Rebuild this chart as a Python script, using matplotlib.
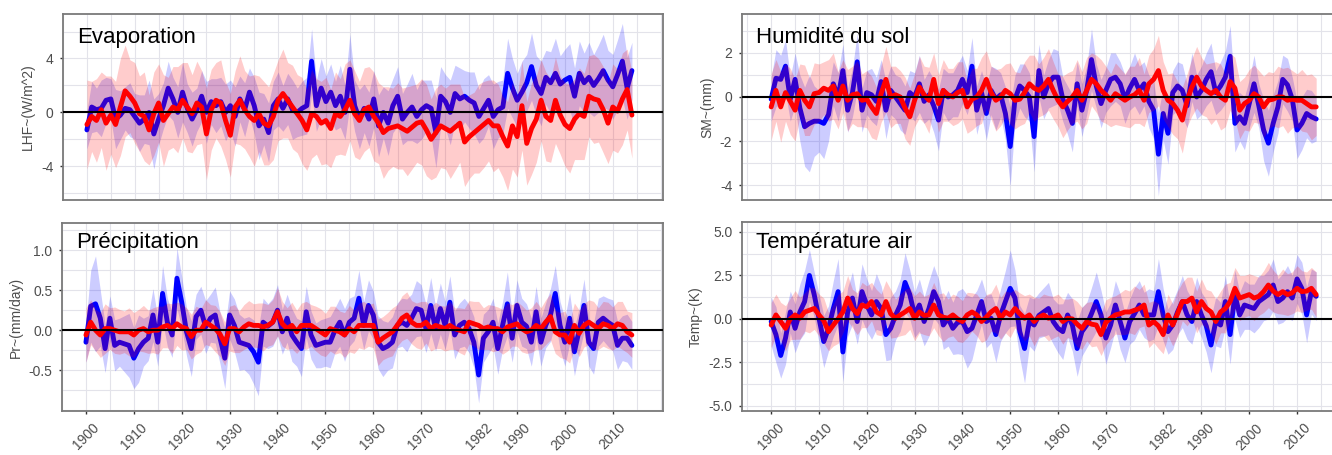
"""Anomalies 1900-2014 : évaporation, humidité du sol, précipitation, température air."""

import matplotlib

matplotlib.use("Agg")
import matplotlib.pyplot as plt  # noqa: E402
import numpy as np  # noqa: E402

plt.rcParams["font.family"] = ["Liberation Sans", "DejaVu Sans"]

# ---------------------------------------------------------------- données
YEARS = np.arange(1900, 2015)
XTICKS = [1900, 1910, 1920, 1930, 1940, 1950, 1960, 1970, 1982, 1990, 2000, 2010]

# Evaporation (LHF, W/m^2)
lhf_blue = [
    -1.3, 0.4, 0.2, 0.3, 0.9, 1.0, -0.5, -0.2, 0.3, 0.2,
    -0.3, -0.8, -0.5, 0.0, -1.6, -0.5, 0.5, 1.8, 1.0, 0.0,
    1.5, 0.3, -0.5, 0.2, 1.2, 0.0, 0.8, 0.5, 0.8, 0.0,
    0.5, -0.3, 1.0, 0.2, 1.5, 0.5, -1.0, -0.5, -1.5, 0.5,
    1.0, 0.3, 1.0, 0.2, 0.0, 0.3, 0.5, 3.8, 0.5, 1.8,
    0.8, 1.5, 0.5, 1.2, 0.0, 3.2, 0.5, -0.5, 0.3, -0.5,
    1.0, -1.0, 0.0, -0.8, 0.5, 1.2, -0.5, 0.0, 0.4, -0.3,
    0.2, 0.5, 0.3, -1.5, 1.2, 0.8, 0.0, 1.4, 1.0, 1.2,
    0.9, 0.7, -0.3, 0.3, 0.9, -0.3, 0.2, 0.4, 2.9, 1.8,
    0.9, 1.5, 2.2, 3.4, 2.0, 1.4, 2.6, 2.2, 2.9, 2.1,
    2.4, 2.6, 1.2, 2.9, 2.2, 2.6, 2.0, 2.5, 3.1, 2.4,
    1.9, 2.8, 3.8, 1.8, 3.1,
]
lhf_blue_sd = [
    1.4, 1.9, 1.6, 2.1, 1.7, 1.5, 2.2, 1.8, 1.6, 2.0,
    1.7, 2.1, 1.8, 2.4, 2.6, 1.9, 1.7, 2.0, 1.6, 1.9,
    2.2, 1.8, 2.0, 1.6, 1.9, 2.3, 1.7, 2.0, 1.8, 2.1,
    1.9, 2.2, 1.7, 2.0, 1.8, 2.1, 2.5, 1.9, 2.2, 1.8,
    2.0, 1.7, 1.9, 2.2, 1.8, 2.0, 2.1, 2.4, 1.9, 2.2,
    1.9, 2.1, 1.8, 2.3, 2.0, 2.6, 1.9, 2.2, 1.8, 2.0,
    2.1, 2.3, 1.9, 2.4, 2.0, 2.2, 1.9, 2.1, 2.5, 2.0,
    2.2, 1.9, 2.1, 2.6, 2.2, 2.0, 2.4, 2.1, 2.3, 1.9,
    2.1, 2.3, 2.0, 2.2, 1.9, 2.4, 2.1, 2.0, 2.6, 2.2,
    2.0, 2.3, 2.1, 2.5, 2.2, 2.4, 2.0, 2.3, 2.6, 2.1,
    2.3, 2.5, 2.1, 2.4, 2.2, 2.6, 2.3, 2.5, 2.7, 2.2,
    2.4, 2.6, 2.8, 2.3, 2.1,
]
lhf_red = [
    -0.9, -0.3, -0.6, 0.2, -0.8, -0.2, -0.9, 0.4, 1.6, 1.2,
    0.7, -0.1, -0.3, -1.3, -0.1, 0.7, -0.6, -0.1, 0.4, 0.2,
    0.9, 0.4, -0.1, 0.7, 0.4, -1.6, 0.2, 0.9, 0.7, -0.6,
    -1.7, 0.4, 0.9, 0.2, -0.3, -0.6, -0.1, -0.8, -1.0, -0.3,
    0.9, 1.4, 0.9, 0.4, -0.1, -0.6, -1.3, -0.1, -0.3, -0.8,
    -0.6, -1.2, -0.1, -0.3, 0.2, 0.9, -0.1, -0.6, 0.2, 0.4,
    -0.3, -0.8, -1.5, -1.2, -1.1, -1.0, -1.2, -1.4, -1.1, -0.8,
    -0.7, -1.3, -2.0, -1.5, -1.0, -1.2, -1.4, -1.1, -0.8, -2.2,
    -1.8, -1.5, -1.2, -0.9, -0.6, -1.0, -1.0, -1.8, -2.5, -1.0,
    -1.8, 0.5, -2.3, -1.2, -0.5, 0.9, -0.3, -0.6, 0.9, -0.2,
    -0.9, -1.2, -0.5, -0.1, -0.3, 1.2, 1.0, 0.9, 0.2, -0.8,
    0.4, 0.1, 1.0, 1.7, -0.2,
]
lhf_red_sd = [
    3.3, 2.6, 3.1, 2.8, 3.5, 2.9, 3.2, 3.6, 3.4, 2.7,
    3.0, 2.8, 3.3, 2.6, 3.1, 2.9, 3.4, 2.7, 3.0, 3.2,
    2.8, 3.3, 2.9, 3.1, 2.7, 3.4, 3.0, 2.8, 3.2, 2.9,
    3.1, 2.7, 3.3, 2.9, 3.0, 3.4, 2.8, 3.1, 2.9, 3.2,
    3.0, 3.3, 2.8, 3.1, 2.9, 3.2, 3.0, 3.3, 2.8, 3.1,
    3.2, 2.9, 3.1, 2.8, 3.4, 3.0, 3.2, 2.9, 3.1, 3.0,
    3.3, 3.0, 3.4, 3.1, 2.9, 3.2, 3.0, 3.3, 3.1, 2.9,
    3.2, 3.4, 3.0, 3.3, 3.1, 3.0, 3.5, 3.2, 2.9, 3.3,
    3.1, 3.0, 3.3, 3.2, 3.0, 3.4, 3.1, 3.0, 3.3, 3.2,
    3.0, 3.3, 3.1, 3.4, 3.2, 3.0, 3.3, 3.1, 3.2, 2.9,
    3.1, 3.3, 3.0, 3.4, 3.2, 3.0, 3.3, 3.1, 3.2, 3.0,
    3.2, 3.1, 3.4, 3.0, 3.2,
]

# Humidité du sol (SM, mm)
sm_blue = [
    -0.1, 0.85, 0.8, 1.4, -0.1, 0.8, -0.5, -1.35, -1.2, -1.1,
    -1.1, -1.2, -0.8, 0.6, 0.0, 1.2, -0.6, 0.2, 1.6, -0.6,
    0.2, 0.1, -0.2, 0.7, -0.6, 0.3, 0.0, -0.3, -0.6, 0.2,
    0.0, 0.6, -0.2, 0.1, -0.4, -1.05, 0.3, 0.0, 0.1, 0.3,
    0.8, 0.2, 1.4, -0.6, 0.2, -0.75, 0.3, -0.1, 0.1, -0.75,
    -2.25, -0.1, 0.5, 0.3, 0.0, -1.8, 1.2, 0.0, 0.6, 0.9,
    0.9, -0.1, -0.6, -1.2, 0.6, -0.6, 0.3, 1.7, 0.5, -0.3,
    0.3, 0.8, 0.9, 0.6, -0.1, 0.4, 0.8, 0.3, 0.6, -0.2,
    -0.6, -2.6, -0.75, -1.65, 0.2, 0.5, 0.3, -0.4, 0.9, 0.0,
    0.3, 0.8, 1.15, 0.2, 0.5, 0.9, 1.85, -1.2, -0.9, -1.2,
    -0.3, 0.6, -0.4, -1.5, -2.1, -1.2, -0.45, 0.8, 0.55, -0.1,
    -1.5, -1.2, -0.75, -0.9, -1.0,
]
sm_blue_sd = [
    1.0, 1.3, 1.1, 1.2, 1.0, 1.2, 1.5, 1.8, 2.2, 1.6,
    1.4, 1.6, 1.2, 1.0, 1.1, 1.2, 1.0, 1.1, 1.3, 1.0,
    1.0, 1.2, 1.1, 1.0, 1.3, 1.1, 1.0, 1.2, 1.1, 1.0,
    1.1, 1.3, 1.0, 1.1, 1.2, 1.4, 1.0, 1.1, 1.0, 1.2,
    1.1, 1.0, 1.3, 1.1, 1.0, 1.2, 1.1, 1.4, 1.0, 1.2,
    1.8, 1.1, 1.0, 1.2, 1.1, 1.6, 1.2, 1.0, 1.1, 1.3,
    1.2, 1.0, 1.1, 1.3, 1.0, 1.2, 1.1, 1.4, 1.0, 1.1,
    1.0, 1.2, 1.1, 1.0, 1.1, 1.0, 1.2, 1.1, 1.0, 1.2,
    1.3, 1.9, 1.2, 1.4, 1.0, 1.1, 1.2, 1.0, 1.1, 1.0,
    1.1, 1.2, 1.3, 1.0, 1.1, 1.2, 1.4, 1.3, 1.1, 1.2,
    1.1, 1.3, 1.0, 1.4, 1.5, 1.3, 1.2, 1.1, 1.2, 1.0,
    1.3, 1.2, 1.1, 1.2, 1.0,
]
sm_red = [
    -0.45, 0.3, -0.45, 0.2, -0.2, -0.6, 0.3, -0.15, -0.45, 0.15,
    0.2, 0.4, 0.3, 0.5, -0.15, 0.5, -0.15, 0.1, 0.15, -0.15,
    -0.1, -0.45, -0.75, 0.15, 0.8, 0.0, 0.1, 0.0, -0.5, -0.9,
    -0.15, 0.45, 0.1, -0.15, 0.8, -0.3, 0.3, 0.1, 0.0, 0.2,
    0.3, -0.45, -0.1, 0.0, 0.3, 0.8, 0.2, -0.15, 0.0, 0.3,
    0.15, -0.15, -0.1, 0.2, 0.6, 0.4, 0.3, 0.5, 0.8, 0.3,
    -0.15, -0.45, -0.2, 0.0, 0.3, -0.15, 0.3, 0.8, 0.6, 0.3,
    0.1, -0.15, 0.15, 0.0, -0.15, 0.0, 0.1, 0.3, -0.15, 0.6,
    0.8, 1.2, 0.3, -0.15, -0.3, -0.6, -1.05, -0.15, 0.45, 0.9,
    0.5, 0.3, 0.15, 0.3, 0.0, -0.15, 0.7, 0.4, -0.6, -0.3,
    -0.15, 0.15, 0.0, -0.45, -0.15, -0.1, 0.0, 0.0, -0.15, -0.1,
    -0.15, -0.15, -0.3, -0.45, -0.45,
]
sm_red_sd = [
    1.5, 1.4, 1.6, 1.3, 1.5, 1.4, 1.2, 1.6, 1.3, 1.4,
    1.3, 1.2, 1.4, 1.5, 1.3, 1.2, 1.4, 1.3, 1.5, 1.2,
    1.3, 1.4, 1.2, 1.3, 1.5, 1.4, 1.3, 1.2, 1.4, 1.3,
    1.2, 1.4, 1.3, 1.5, 1.2, 1.3, 1.4, 1.2, 1.3, 1.4,
    1.3, 1.2, 1.4, 1.3, 1.5, 1.3, 1.2, 1.4, 1.3, 1.2,
    1.4, 1.3, 1.2, 1.4, 1.3, 1.5, 1.2, 1.3, 1.4, 1.3,
    1.2, 1.4, 1.3, 1.2, 1.4, 1.3, 1.5, 1.2, 1.3, 1.4,
    1.3, 1.2, 1.4, 1.3, 1.2, 1.4, 1.3, 1.5, 1.2, 1.3,
    1.4, 1.6, 1.3, 1.2, 1.4, 1.3, 1.5, 1.2, 1.3, 1.4,
    1.3, 1.2, 1.4, 1.3, 1.5, 1.2, 1.3, 1.4, 1.3, 1.2,
    1.4, 1.3, 1.2, 1.4, 1.3, 1.2, 1.4, 1.3, 1.5, 1.3,
    1.2, 1.4, 1.3, 1.5, 1.3,
]

# Précipitation (Pr, mm/day)
pr_blue = [
    -0.15, 0.3, 0.33, 0.15, -0.23, 0.15, -0.19, -0.15, -0.17, -0.19,
    -0.35, -0.23, -0.15, -0.1, 0.19, -0.15, 0.46, 0.1, -0.06, 0.65,
    0.35, -0.02, -0.23, 0.17, 0.25, 0.04, 0.15, 0.19, -0.1, -0.35,
    0.19, 0.06, -0.15, -0.17, -0.19, -0.27, -0.4, 0.1, 0.05, 0.1,
    0.25, -0.02, 0.15, -0.06, -0.15, -0.23, 0.23, -0.06, -0.19, -0.17,
    -0.15, -0.15, 0.0, 0.1, -0.06, 0.1, 0.15, 0.4, 0.06, 0.31,
    0.19, -0.15, -0.23, -0.2, -0.15, 0.06, 0.1, 0.06, 0.15, 0.27,
    0.25, 0.02, 0.31, 0.02, 0.27, 0.06, 0.35, -0.06, 0.06, 0.1,
    0.02, -0.15, -0.56, -0.1, -0.02, 0.1, -0.23, 0.06, 0.33, -0.1,
    0.31, 0.1, 0.05, -0.15, 0.23, -0.15, 0.06, 0.19, 0.46, 0.06,
    -0.15, 0.15, -0.27, 0.0, 0.31, -0.15, -0.23, 0.1, 0.15, 0.1,
    0.06, -0.19, -0.1, -0.1, -0.19,
]
pr_blue_sd = [
    0.25, 0.45, 0.6, 0.35, 0.3, 0.28, 0.32, 0.3, 0.35, 0.4,
    0.38, 0.42, 0.3, 0.28, 0.33, 0.3, 0.35, 0.3, 0.28, 0.38,
    0.32, 0.3, 0.35, 0.28, 0.3, 0.33, 0.3, 0.35, 0.32, 0.38,
    0.3, 0.33, 0.35, 0.32, 0.36, 0.4, 0.42, 0.3, 0.28, 0.3,
    0.32, 0.28, 0.3, 0.33, 0.3, 0.35, 0.32, 0.3, 0.28, 0.3,
    0.3, 0.32, 0.28, 0.3, 0.33, 0.3, 0.28, 0.35, 0.3, 0.32,
    0.3, 0.33, 0.35, 0.3, 0.32, 0.28, 0.3, 0.33, 0.3, 0.35,
    0.32, 0.3, 0.35, 0.28, 0.32, 0.3, 0.33, 0.3, 0.28, 0.3,
    0.3, 0.32, 0.35, 0.3, 0.28, 0.3, 0.32, 0.3, 0.4, 0.3,
    0.32, 0.3, 0.28, 0.3, 0.32, 0.3, 0.28, 0.33, 0.35, 0.3,
    0.3, 0.32, 0.3, 0.28, 0.33, 0.3, 0.32, 0.3, 0.28, 0.3,
    0.32, 0.3, 0.28, 0.3, 0.3,
]
pr_red = [
    -0.06, 0.1, 0.0, -0.06, 0.02, 0.02, 0.0, -0.02, -0.02, -0.02,
    -0.06, 0.0, 0.02, -0.02, 0.0, 0.0, 0.04, 0.06, 0.02, 0.08,
    0.04, 0.02, -0.08, 0.0, 0.0, 0.1, 0.06, 0.02, -0.05, -0.17,
    0.02, 0.02, -0.02, 0.04, 0.08, 0.06, 0.06, 0.04, 0.06, 0.1,
    0.23, 0.08, 0.02, 0.06, -0.02, 0.06, 0.06, 0.06, 0.02, -0.02,
    -0.06, 0.02, 0.0, -0.02, -0.06, 0.02, -0.02, 0.06, 0.06, 0.06,
    0.06, -0.15, -0.1, -0.06, -0.02, 0.06, 0.15, 0.19, 0.1, 0.06,
    0.06, 0.1, 0.02, 0.06, 0.04, 0.02, 0.06, 0.02, 0.0, -0.02,
    0.1, 0.08, 0.06, 0.02, 0.04, 0.02, 0.02, -0.02, 0.04, 0.06,
    0.08, 0.02, -0.02, 0.0, 0.06, 0.02, 0.1, 0.17, -0.02, -0.06,
    -0.06, -0.15, 0.06, -0.04, 0.06, 0.1, 0.06, 0.02, 0.08, 0.06,
    0.02, 0.08, 0.06, -0.02, -0.06,
]
pr_red_sd = [
    0.34, 0.28, 0.26, 0.28, 0.31, 0.26, 0.29, 0.28, 0.26, 0.3,
    0.28, 0.26, 0.29, 0.27, 0.28, 0.3, 0.26, 0.28, 0.31, 0.27,
    0.29, 0.26, 0.28, 0.3, 0.27, 0.28, 0.26, 0.29, 0.28, 0.27,
    0.28, 0.3, 0.26, 0.28, 0.29, 0.27, 0.28, 0.3, 0.26, 0.28,
    0.3, 0.28, 0.26, 0.29, 0.27, 0.28, 0.3, 0.26, 0.28, 0.29,
    0.27, 0.28, 0.3, 0.26, 0.28, 0.29, 0.27, 0.28, 0.3, 0.26,
    0.28, 0.29, 0.27, 0.28, 0.3, 0.26, 0.28, 0.29, 0.27, 0.28,
    0.3, 0.26, 0.28, 0.29, 0.27, 0.28, 0.3, 0.26, 0.28, 0.29,
    0.27, 0.28, 0.3, 0.26, 0.28, 0.29, 0.27, 0.28, 0.3, 0.26,
    0.28, 0.29, 0.27, 0.28, 0.3, 0.26, 0.28, 0.29, 0.27, 0.28,
    0.3, 0.26, 0.28, 0.29, 0.27, 0.28, 0.3, 0.26, 0.28, 0.29,
    0.27, 0.28, 0.3, 0.26, 0.28,
]

# Température air (Temp, K)
tas_blue = [
    -0.15, -0.9, -2.1, -1.1, 0.4, -0.54, 0.4, 1.0, 2.5, 1.4,
    0.04, -1.3, -0.54, 0.6, 1.57, -1.9, 0.4, 1.2, -0.15, 1.57,
    0.8, 0.23, 1.0, 0.6, -0.9, -0.54, 0.2, 0.8, 2.1, 1.4,
    0.23, 0.8, -0.15, 0.6, 1.57, 1.0, -0.35, 0.04, -0.54, -0.2,
    -0.15, -0.73, -0.54, 0.23, 1.0, -0.15, 0.04, -0.9, 0.23, 1.0,
    1.76, 1.2, -0.73, -1.7, -0.15, -0.35, 0.2, 0.4, 0.6, -0.15,
    -0.54, -0.73, 0.23, -0.35, -1.7, -0.73, -0.35, 0.3, 1.0, 0.23,
    -1.1, -0.35, 0.8, -0.15, -1.1, -0.15, 0.3, 0.8, 0.23, 0.23,
    0.23, 1.57, 0.23, -0.73, -0.35, 0.4, 1.0, 0.23, -0.15, 1.0,
    0.23, -0.4, -1.5, -0.15, -0.35, 1.0, -0.9, 1.4, 0.23, 0.8,
    0.7, 0.6, 1.0, 1.2, 1.4, 1.95, 1.0, 1.2, 1.57, 1.2,
    2.3, 1.76, 0.23, 1.57, 1.3,
]
tas_blue_sd = [
    1.4, 1.6, 1.3, 1.5, 1.2, 1.4, 1.6, 1.8, 1.5, 1.3,
    1.4, 1.5, 1.3, 1.6, 1.9, 1.7, 1.4, 1.5, 1.3, 1.6,
    1.5, 1.4, 1.6, 1.3, 1.5, 1.8, 1.4, 1.5, 1.7, 1.4,
    1.3, 1.5, 1.4, 1.6, 1.5, 1.3, 1.4, 1.6, 1.5, 1.8,
    1.9, 2.1, 1.8, 1.4, 1.3, 1.5, 1.4, 1.6, 1.5, 1.8,
    2.2, 1.6, 1.5, 2.0, 1.4, 1.5, 1.3, 1.4, 1.5, 1.3,
    1.4, 1.6, 1.3, 1.5, 1.6, 1.4, 1.3, 1.5, 1.7, 1.4,
    1.5, 1.3, 1.4, 1.6, 1.4, 1.3, 1.5, 1.4, 1.3, 1.5,
    1.4, 1.9, 1.5, 1.3, 1.4, 1.3, 1.5, 1.4, 1.3, 1.4,
    1.3, 1.5, 1.6, 1.4, 1.3, 1.5, 1.7, 1.4, 1.3, 1.4,
    1.3, 1.4, 1.5, 1.3, 1.4, 1.5, 1.3, 1.4, 1.5, 1.3,
    1.4, 1.5, 1.6, 1.3, 1.4,
]
tas_red = [
    -0.35, 0.23, -0.15, -0.54, 0.0, 0.23, 0.04, 0.4, 0.5, 0.6,
    0.23, -0.1, -0.73, -0.35, 0.0, 0.4, 1.2, 0.6, 0.3, 0.8,
    0.7, 1.0, 0.4, 0.23, 1.0, 0.3, 0.04, 0.23, 0.4, 0.6,
    0.04, 0.4, 0.2, 0.23, 0.8, 0.23, 0.1, 0.04, 0.23, 0.0,
    -0.15, 0.23, 0.4, 0.23, -0.15, 0.1, 0.4, 0.6, 0.04, 0.4,
    0.23, 0.6, 0.3, 0.04, 0.23, -0.15, 0.1, 0.23, 0.04, 0.1,
    0.23, -0.15, 0.04, 0.0, -0.3, -0.54, -0.15, -0.3, -0.35, -0.9,
    -0.2, 0.04, 0.23, 0.3, 0.4, 0.4, 0.5, 0.6, 0.8, -0.35,
    -0.15, -0.4, -0.9, 0.23, -0.35, 0.3, 1.0, 1.0, 1.2, 0.4,
    1.0, 0.6, 0.4, -0.15, 0.4, 0.6, 1.0, 1.76, 1.2, 1.3,
    1.4, 1.2, 1.3, 1.57, 1.95, 1.6, 1.4, 1.57, 1.4, 1.5,
    1.76, 1.57, 1.6, 1.76, 1.4,
]
tas_red_sd = [
    1.3, 1.2, 1.1, 1.3, 1.2, 1.4, 1.2, 1.1, 1.3, 1.2,
    1.2, 1.3, 1.1, 1.2, 1.4, 1.2, 1.3, 1.1, 1.2, 1.3,
    1.2, 1.1, 1.3, 1.2, 1.2, 1.4, 1.1, 1.2, 1.3, 1.2,
    1.3, 1.2, 1.1, 1.2, 1.3, 1.2, 1.4, 1.1, 1.2, 1.3,
    1.2, 1.3, 1.1, 1.2, 1.2, 1.3, 1.1, 1.4, 1.2, 1.2,
    1.3, 1.1, 1.2, 1.3, 1.2, 1.4, 1.1, 1.2, 1.3, 1.2,
    1.2, 1.3, 1.1, 1.2, 1.3, 1.2, 1.1, 1.3, 1.2, 1.2,
    1.3, 1.2, 1.1, 1.2, 1.3, 1.2, 1.4, 1.1, 1.2, 1.3,
    1.2, 1.3, 1.1, 1.2, 1.2, 1.3, 1.1, 1.4, 1.2, 1.2,
    1.3, 1.1, 1.2, 1.3, 1.2, 1.4, 1.1, 1.2, 1.3, 1.2,
    1.2, 1.3, 1.1, 1.2, 1.3, 1.2, 1.1, 1.3, 1.2, 1.2,
    1.3, 1.2, 1.1, 1.2, 1.3,
]

# ---------------------------------------------------------------- style
BLUE = "#0000ff"
RED = "#ff0000"
GRID = "#e3e3ea"
FRAME = "#7a7a7a"
TXT = "#4d4d4d"


def panel(ax, blue, blue_sd, red, red_sd, title, ylabel, yticks, ylim,
          ygrid, xlim, show_x, title_y):
    for arr in (blue, blue_sd, red, red_sd):
        assert len(arr) == len(YEARS), (title, len(arr))
    b, bs = np.array(blue), np.array(blue_sd)
    r, rs = np.array(red), np.array(red_sd)

    for x in np.arange(1895, 2025, 5):
        ax.axvline(x, color=GRID, lw=0.8, zorder=0)
    for y in ygrid:
        ax.axhline(y, color=GRID, lw=0.8, zorder=0)

    ax.fill_between(YEARS, b - bs, b + bs, color=BLUE, alpha=0.2, lw=0, zorder=1)
    ax.plot(YEARS, b, color=BLUE, lw=3.5, solid_joinstyle="round",
            solid_capstyle="round", zorder=2)
    ax.fill_between(YEARS, r - rs, r + rs, color=RED, alpha=0.2, lw=0, zorder=3)
    ax.plot(YEARS, r, color=RED, lw=3.5, solid_joinstyle="round",
            solid_capstyle="round", zorder=4)
    ax.axhline(0, color="black", lw=1.5, zorder=5)

    ax.set_xlim(*xlim)
    ax.set_ylim(*ylim)
    ax.set_yticks(yticks)
    ax.set_yticklabels([f"{t:g}" if isinstance(t, int) else f"{t:.1f}" for t in yticks])
    ax.set_xticks(XTICKS)
    if show_x:
        ax.set_xticklabels([str(t) for t in XTICKS], rotation=45, ha="center")
    else:
        ax.tick_params(axis="x", bottom=False, labelbottom=False)
    ax.tick_params(axis="both", length=2, width=1, color="#333333", pad=5,
                   labelsize=10, labelcolor=TXT)
    for sp in ax.spines.values():
        sp.set_color(FRAME)
        sp.set_linewidth(1.3)
    ax.set_ylabel(ylabel, fontsize=10, color=TXT, labelpad=4)
    ax.text(0.023, title_y, title, transform=ax.transAxes, fontsize=16,
            color="black", va="baseline", ha="left", zorder=6)


fig = plt.figure(figsize=(13.32, 4.55), dpi=100)
W, H = 1332.0, 455.0

ax_tl = fig.add_axes((63 / W, 1 - 200 / H, 600 / W, 186 / H))
ax_tr = fig.add_axes((742 / W, 1 - 200 / H, 600 / W, 186 / H))
ax_bl = fig.add_axes((62 / W, 1 - 411 / H, 601 / W, 188 / H))
ax_br = fig.add_axes((742 / W, 1 - 411 / H, 600 / W, 189 / H))

XL_LEFT = (1895.0, 2020.5)
XL_RIGHT = (1893.9, 2019.4)

panel(ax_tl, lhf_blue, lhf_blue_sd, lhf_red, lhf_red_sd, "Evaporation",
      "LHF~(W/m^2)", [-4, 0, 4], (-6.5, 7.3), np.arange(-6, 8, 2),
      XL_LEFT, False, 0.845)
panel(ax_tr, sm_blue, sm_blue_sd, sm_red, sm_red_sd, "Humidité du sol",
      "SM~(mm)", [-4, -2, 0, 2], (-4.68, 3.77), np.arange(-4, 4, 1),
      XL_RIGHT, False, 0.845)
panel(ax_bl, pr_blue, pr_blue_sd, pr_red, pr_red_sd, "Précipitation",
      "Pr~(mm/day)", [-0.5, 0.0, 0.5, 1.0], (-1.01, 1.34),
      np.arange(-1.0, 1.5, 0.25), XL_LEFT, True, 0.867)
panel(ax_br, tas_blue, tas_blue_sd, tas_red, tas_red_sd, "Température air",
      "Temp~(K)", [-5.0, -2.5, 0.0, 2.5, 5.0], (-5.29, 5.57),
      np.arange(-5.0, 6.0, 1.25), XL_RIGHT, True, 0.862)

fig.savefig("out.png", dpi=100)
